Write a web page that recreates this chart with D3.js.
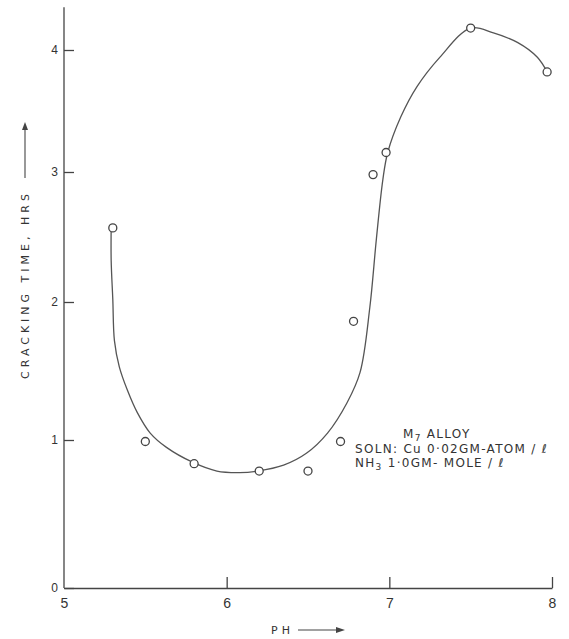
<!DOCTYPE html>
<html lang="en">
<head>
    <meta charset="UTF-8">
    <title>Cracking time vs pH</title>
    <style>
        body { margin: 0; background: #fff; }
        svg { display: block; font-family: "DejaVu Sans", sans-serif; }
        .axis path, .axis line { stroke: #444; stroke-width: 1.3; }
        .axis text { fill: #333; }
        .y-axis text { font-size: 12px; }
        .x-axis text { font-size: 14px; }
        .lbl { fill: #333; font-size: 11px; letter-spacing: 4px; }
        .note { fill: #333; font-size: 12px; letter-spacing: 1.3px; }
    </style>
</head>
<body>
    <svg id="chart" width="569" height="639"></svg>

    <script src="https://d3js.org/d3.v7.min.js"></script>
    <script>
        // measured points
        const phValues = [5.3, 5.5, 5.8, 6.2, 6.5, 6.7, 6.78, 6.9, 6.98, 7.5, 7.97];
        const crackHours = [2.57, 0.99, 0.84, 0.79, 0.79, 0.99, 1.86, 2.98, 3.16, 4.18, 3.82];

        // hand drawn curve
        const curvePh = [5.29, 5.29, 5.30, 5.31, 5.34, 5.39, 5.45, 5.53, 5.63, 5.79, 5.94, 6.08,
                         6.19, 6.35, 6.49, 6.62, 6.74, 6.82, 6.88, 6.92, 6.96, 6.99, 7.07, 7.17,
                         7.31, 7.50, 7.64, 7.79, 7.91, 7.97];
        const curveHours = [2.58, 2.32, 2.02, 1.72, 1.53, 1.36, 1.20, 1.05, 0.95, 0.85, 0.79, 0.78,
                            0.79, 0.83, 0.91, 1.05, 1.27, 1.49, 1.96, 2.48, 2.94, 3.16, 3.45, 3.70,
                            3.94, 4.18, 4.14, 4.06, 3.94, 3.82];

        const xTicks = [5, 6, 7, 8];
        const yTicks = [0, 1, 2, 3, 4];

        const svg = d3.select("#chart");

        const x = d3.scaleLinear().domain([5, 8]).range([64, 552]);
        // the paper grid is slightly uneven, so a piecewise scale follows it
        const y = d3.scaleLinear().domain([0, 1, 2, 3, 4]).range([588, 440, 302, 172, 50]);

        // y axis
        const yAxis = svg.append("g")
            .attr("class", "axis y-axis")
            .attr("transform", `translate(${x(5)},0)`)
            .call(d3.axisLeft(y).tickValues(yTicks).tickFormat(d3.format("d"))
                .tickSize(-10).tickSizeOuter(0).tickPadding(6));
        yAxis.select(".domain").remove();
        yAxis.append("line")
            .attr("y1", y(0)).attr("y2", y(4.35));

        // x axis
        const xAxis = svg.append("g")
            .attr("class", "axis x-axis")
            .attr("transform", `translate(0,${y(0)})`)
            .call(d3.axisBottom(x).tickValues(xTicks).tickFormat(d3.format("d"))
                .tickSize(-11).tickSizeOuter(0).tickPadding(10));
        xAxis.selectAll(".tick").filter(d => d === 5).select("line").remove();

        // axis titles
        svg.append("text")
            .attr("class", "lbl")
            .attr("transform", "translate(29,379) rotate(-90)")
            .text("CRACKING TIME, HRS");
        svg.append("line")
            .attr("x1", 25).attr("x2", 25)
            .attr("y1", 178).attr("y2", 125)
            .attr("stroke", "#444").attr("stroke-width", 1.1);
        svg.append("path")
            .attr("d", "M22,130 L25,122 L28,130 Z")
            .attr("fill", "#444");

        svg.append("text")
            .attr("class", "lbl")
            .attr("x", 271).attr("y", 634)
            .text("PH");
        svg.append("line")
            .attr("x1", 298).attr("x2", 340)
            .attr("y1", 630).attr("y2", 630)
            .attr("stroke", "#444").attr("stroke-width", 1.1);
        svg.append("path")
            .attr("d", "M336,627 L345,630 L336,633 Z")
            .attr("fill", "#444");

        // fitted curve
        const curvePts = curvePh.map((p, i) => [p, curveHours[i]]);
        svg.append("path")
            .datum(curvePts)
            .attr("fill", "none")
            .attr("stroke", "#555")
            .attr("stroke-width", 1.3)
            .attr("d", d3.line()
                .x(d => x(d[0]))
                .y(d => y(d[1]))
                .curve(d3.curveCatmullRom.alpha(0.5)));

        // data points
        svg.selectAll(".pt")
            .data(phValues)
            .enter().append("circle")
            .attr("class", "pt")
            .attr("cx", d => x(d))
            .attr("cy", (d, i) => y(crackHours[i]))
            .attr("r", 4)
            .attr("fill", "#fff")
            .attr("stroke", "#444")
            .attr("stroke-width", 1.3);

        // annotation
        const note = svg.append("g").attr("class", "note");
        const l1 = note.append("text").attr("x", 403).attr("y", 438);
        l1.append("tspan").text("M");
        l1.append("tspan").attr("font-size", 9).attr("dy", 3).text("7");
        l1.append("tspan").attr("dy", -3).text(" ALLOY");
        note.append("text").attr("x", 355).attr("y", 453)
            .text("SOLN: Cu 0·02GM-ATOM / ℓ");
        const l3 = note.append("text").attr("x", 355).attr("y", 467);
        l3.append("tspan").text("NH");
        l3.append("tspan").attr("font-size", 9).attr("dy", 3).text("3");
        l3.append("tspan").attr("dy", -3).text(" 1·0GM- MOLE / ℓ");
    </script>
</body>
</html>
